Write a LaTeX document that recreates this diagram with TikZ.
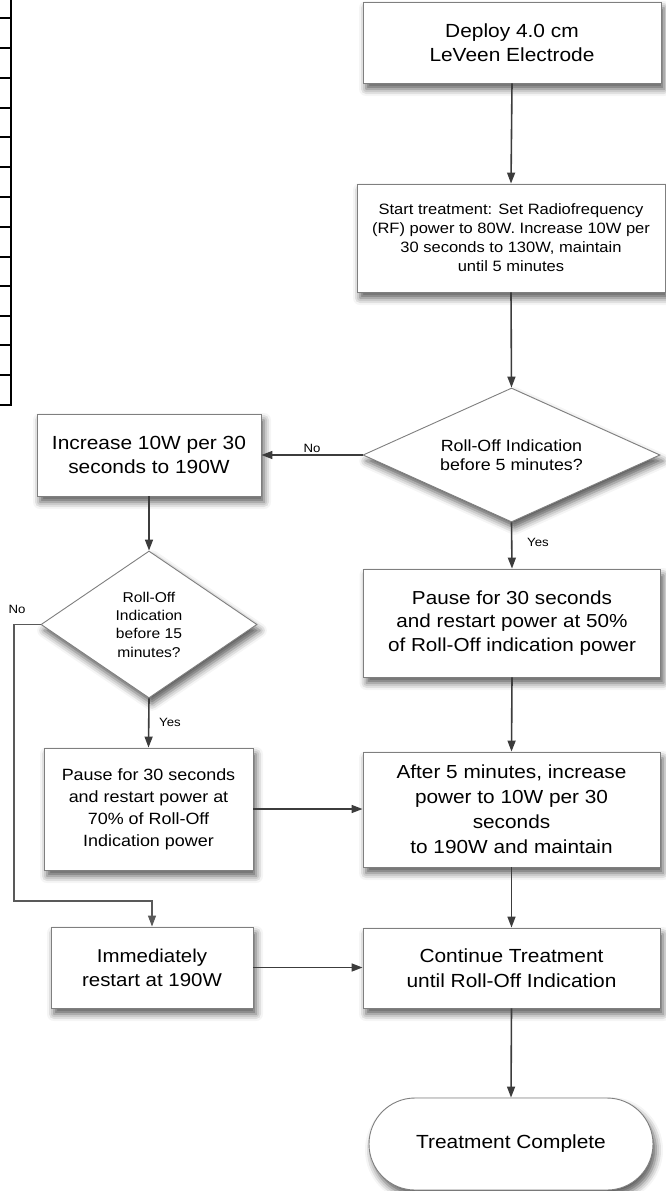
\documentclass[tikz,border=0pt]{standalone}
\usepackage{fontspec}
\setmainfont{Liberation Sans}[FakeStretch=1.1]
\usetikzlibrary{shapes.geometric,shadows.blur,arrows.meta}
\definecolor{bordergray}{HTML}{7F7F7F}
\definecolor{linegray}{HTML}{3C3C3C}
\tikzset{
  shd/.style={blur shadow={shadow xshift=3pt, shadow yshift=-6pt, shadow blur radius=7pt, shadow opacity=65}},
  fbox/.style={draw=bordergray, line width=0.9pt, fill=white, shd, align=center, inner sep=0pt, rectangle},
  dbox/.style={draw=bordergray, line width=0.9pt, fill=white, shd, align=center, inner sep=0pt, diamond},
  conn/.style={draw=linegray, line width=1.6pt, -{Triangle[length=11pt,width=8pt]}},
  lbl/.style={font=\fontsize{12}{14}\selectfont, inner sep=0pt},
  fbig/.style={font=\fontsize{19}{24.5}\selectfont},
  edge/.style={draw=black, line width=2.6pt}
}
\begin{document}
\begin{tikzpicture}[x=1pt,y=-1pt]
\useasboundingbox (0,0) rectangle (666,1191);
% cropped ruler-like edge at the left
\draw[edge] (11,0) -- (11,405) -- (0,405);
\foreach \yy in {18,48,78,108,137,167,197,227,257,286,316,345,375}{
  \draw[edge] (0,\yy) -- (11,\yy);
}
% nodes
\node[fbox, fbig, minimum width=298pt, minimum height=81pt] (deploy) at (512,42.5) {Deploy 4.0 cm\\LeVeen Electrode};
\node[fbox, font=\fontsize{15}{19}\selectfont, minimum width=308pt, minimum height=108pt] (start) at (511,238) {Start treatment: Set Radiofrequency\\(RF) power to 80W. Increase 10W per\\30 seconds to 130W, maintain\\until 5 minutes};
\node[dbox, font=\fontsize{16.2}{19.5}\selectfont, aspect=2.2, minimum width=297pt, minimum height=134pt] (d1) at (511.5,455) {Roll-Off Indication\\before 5 minutes?};
\node[fbox, font=\fontsize{19}{23.5}\selectfont, minimum width=224pt, minimum height=82pt] (inc) at (149,455) {Increase 10W per 30\\seconds to 190W};
\node[dbox, font=\fontsize{14.2}{18.3}\selectfont, aspect=1.47, minimum width=216pt, minimum height=147pt] (d2) at (149,624.5) {Roll-Off\\Indication\\before 15\\minutes?};
\node[fbox, font=\fontsize{18.8}{23.7}\selectfont, minimum width=297pt, minimum height=108pt] (p50) at (512,623) {Pause for 30 seconds\\and restart power at 50\%\\of Roll-Off indication power};
\node[fbox, font=\fontsize{16.3}{22}\selectfont, minimum width=209pt, minimum height=122pt] (p70) at (148.5,809) {Pause for 30 seconds\\and restart power at\\70\% of Roll-Off\\Indication power};
\node[fbox, font=\fontsize{18.9}{25}\selectfont, minimum width=297pt, minimum height=115pt] (after) at (511.5,809.5) {After 5 minutes, increase\\power to 10W per 30\\seconds\\to 190W and maintain};
\node[fbox, font=\fontsize{18.6}{24.3}\selectfont, minimum width=202pt, minimum height=81pt] (imm) at (152,967.5) {Immediately\\restart at 190W};
\node[fbox, fbig, minimum width=297pt, minimum height=80pt] (cont) at (511.5,968) {Continue Treatment\\until Roll-Off Indication};
\node[fbox, fbig, minimum width=284pt, minimum height=92pt, rounded corners=46pt] (tc) at (511,1144) {Treatment Complete};
% connectors
\draw[conn] (deploy.south) -- (start.north);
\draw[conn] (start.south) -- (d1.north);
\draw[conn] (d1.west) -- (inc.east);
\node[lbl] (lno1) at (312,448) {No};
\draw[conn] (inc.south) -- (d2.north);
\draw[conn] (d1.south) -- (p50.north);
\node[lbl] (lyes1) at (538,542) {Yes};
\draw[conn] (d2.south) -- (p70.north);
\node[lbl] (lyes2) at (170,722) {Yes};
\draw[conn] (p50.south) -- (after.north);
\draw[conn] (p70.east) -- (p70.east -| after.west);
\draw[conn] (after.south) -- (cont.north);
\draw[conn] (imm.east) -- (imm.east -| cont.west);
\draw[conn] (cont.south) -- (tc.north);
\coordinate (n1) at (14,624.5);
\coordinate (n2) at (14,901);
\draw[conn, line width=1.2pt, draw=bordergray!70!black] (d2.west) -- (n1) -- (n2) -- (n2 -| imm.north) -- (imm.north);
\node[lbl] (lno2) at (17,609) {No};
\end{tikzpicture}
\end{document}
